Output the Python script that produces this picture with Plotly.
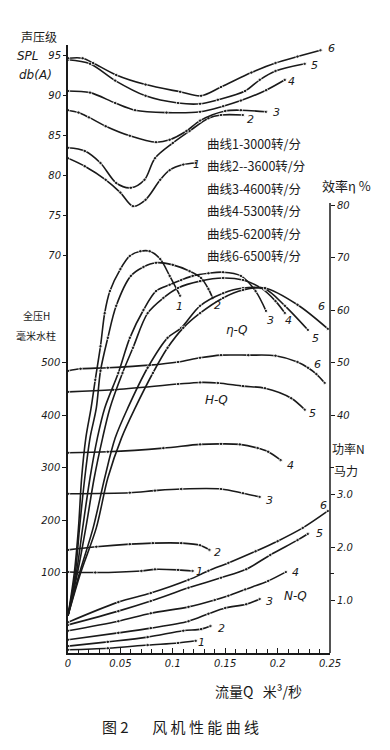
import plotly.graph_objects as go

# ---------------- data ----------------
# Sound pressure level curves, dB(A)  (left upper axis)
SPL_Q1 = [0, 0.016, 0.036, 0.050, 0.062, 0.074, 0.088, 0.097, 0.110, 0.122]
SPL_1 = [82.1, 81.1, 79.4, 77.8, 76.1, 76.9, 79.4, 80.6, 81.3, 81.5]
SPL_Q2 = [0, 0.016, 0.031, 0.046, 0.060, 0.073, 0.083, 0.100, 0.116, 0.134, 0.146, 0.167]
SPL_2 = [83.4, 83.0, 81.5, 79.0, 78.4, 79.4, 82.1, 84.0, 85.5, 87.1, 87.5, 87.5]
SPL_Q3 = [0, 0.010, 0.020, 0.036, 0.059, 0.084, 0.097, 0.113, 0.126, 0.150, 0.165, 0.189]
SPL_3 = [88.1, 87.8, 87.2, 86.1, 84.9, 84.1, 84.4, 85.5, 86.8, 88.0, 88.1, 87.9]
SPL_Q4 = [0, 0.021, 0.045, 0.064, 0.094, 0.126, 0.148, 0.165, 0.189, 0.207]
SPL_4 = [90.5, 90.3, 89.0, 88.1, 87.8, 87.9, 88.6, 89.3, 90.6, 91.9]
SPL_Q5 = [0, 0.021, 0.045, 0.074, 0.105, 0.126, 0.143, 0.169, 0.183, 0.198, 0.226]
SPL_5 = [94.4, 93.9, 91.8, 89.9, 89.0, 88.9, 89.4, 90.5, 91.9, 93.0, 93.9]
SPL_Q6 = [0, 0.014, 0.024, 0.046, 0.074, 0.107, 0.127, 0.146, 0.175, 0.198, 0.219, 0.241]
SPL_6 = [94.6, 94.6, 94.0, 92.5, 91.3, 90.4, 89.9, 91.0, 92.8, 94.0, 94.8, 95.6]

# Efficiency curves, %  (right upper axis)
ETA_Q1 = [0, 0.006, 0.010, 0.013, 0.017, 0.022, 0.026, 0.031, 0.035, 0.040, 0.050, 0.059, 0.069, 0.078, 0.088, 0.097, 0.107]
ETA_1 = [1.8, 9.9, 18.5, 28.0, 35.6, 41.3, 46.7, 53.1, 59.4, 63.6, 67.8, 70.3, 71.2, 71.2, 69.7, 66.5, 62.7]
ETA_Q2 = [0, 0.007, 0.011, 0.016, 0.021, 0.027, 0.031, 0.038, 0.046, 0.060, 0.072, 0.084, 0.100, 0.116, 0.127, 0.134, 0.138]
ETA_2 = [1.8, 9.9, 18.5, 28.0, 35.6, 41.3, 48.4, 54.7, 60.8, 66.5, 68.2, 69.0, 68.6, 67.4, 66.1, 64.0, 62.3]
ETA_Q3 = [0, 0.008, 0.014, 0.021, 0.028, 0.035, 0.048, 0.059, 0.072, 0.084, 0.097, 0.108, 0.119, 0.134, 0.148, 0.165, 0.179, 0.189]
ETA_3 = [1.8, 9.9, 18.5, 28.0, 35.6, 41.3, 48.0, 54.7, 60.0, 63.6, 64.8, 65.7, 66.5, 67.0, 67.2, 66.5, 63.6, 59.8]
ETA_Q4 = [0, 0.009, 0.017, 0.025, 0.033, 0.040, 0.052, 0.062, 0.076, 0.091, 0.105, 0.126, 0.148, 0.167, 0.184, 0.198, 0.207]
ETA_4 = [1.8, 9.9, 18.5, 28.0, 35.6, 41.3, 48.0, 52.8, 59.4, 62.3, 64.2, 65.5, 66.1, 65.7, 64.2, 61.7, 59.4]
ETA_Q5 = [0, 0.011, 0.024, 0.035, 0.045, 0.057, 0.076, 0.095, 0.108, 0.126, 0.148, 0.167, 0.188, 0.207, 0.229]
ETA_5 = [1.8, 9.9, 18.5, 28.0, 35.6, 41.3, 49.0, 54.7, 56.6, 60.8, 63.2, 64.2, 64.0, 60.8, 56.2]
ETA_Q6 = [0, 0.012, 0.027, 0.038, 0.051, 0.064, 0.081, 0.095, 0.110, 0.126, 0.148, 0.167, 0.188, 0.219, 0.248]
ETA_6 = [1.8, 9.9, 18.5, 28.0, 35.6, 41.3, 48.0, 52.8, 56.6, 59.4, 62.3, 63.8, 64.2, 61.0, 56.4]

# Total pressure curves, mm water column  (left lower axis)
H_Q1 = [0, 0.026, 0.070, 0.083, 0.105, 0.119]
H_1 = [101, 100, 103, 106, 105, 103]
H_Q2 = [0, 0.027, 0.059, 0.081, 0.108, 0.126, 0.135]
H_2 = [143, 149, 154, 156, 156, 152, 143]
H_Q3 = [0, 0.059, 0.083, 0.108, 0.146, 0.167, 0.183]
H_3 = [250, 252, 256, 259, 259, 251, 244]
H_Q4 = [0, 0.038, 0.091, 0.126, 0.146, 0.164, 0.181, 0.191, 0.203]
H_4 = [328, 330, 337, 344, 345, 344, 337, 330, 314]
H_Q5 = [0, 0.043, 0.105, 0.126, 0.143, 0.167, 0.188, 0.213, 0.226]
H_5 = [444, 448, 459, 462, 461, 455, 451, 432, 410]
H_Q6 = [0, 0.012, 0.038, 0.078, 0.105, 0.126, 0.146, 0.172, 0.198, 0.219, 0.229, 0.237, 0.245]
H_6 = [484, 488, 490, 495, 501, 509, 514, 514, 513, 501, 490, 478, 461]

# Power curves, horsepower  (right lower axis)
N_Q1 = [0, 0.038, 0.076, 0.105, 0.122]
N_1 = [0.06, 0.09, 0.15, 0.19, 0.23]
N_Q2 = [0, 0.038, 0.076, 0.110, 0.127, 0.136]
N_2 = [0.13, 0.21, 0.30, 0.42, 0.45, 0.51]
N_Q3 = [0, 0.048, 0.079, 0.115, 0.134, 0.150, 0.170, 0.183]
N_3 = [0.25, 0.38, 0.47, 0.60, 0.74, 0.85, 0.92, 1.02]
N_Q4 = [0, 0.048, 0.079, 0.115, 0.140, 0.153, 0.169, 0.191, 0.208]
N_4 = [0.42, 0.60, 0.75, 0.87, 1.00, 1.08, 1.20, 1.36, 1.53]
N_Q5 = [0, 0.048, 0.079, 0.115, 0.146, 0.170, 0.193, 0.219, 0.229]
N_5 = [0.53, 0.79, 0.98, 1.23, 1.42, 1.58, 1.85, 2.13, 2.25]
N_Q6 = [0, 0.048, 0.079, 0.115, 0.134, 0.153, 0.179, 0.200, 0.224, 0.248]
N_6 = [0.58, 0.96, 1.13, 1.38, 1.55, 1.70, 1.92, 2.11, 2.36, 2.68]

CURVE_IDS = ["1", "2", "3", "4", "5", "6"]
LEGEND_ROWS = ["曲线1-3000转/分", "曲线2--3600转/分", "曲线3-4600转/分",
               "曲线4-5300转/分", "曲线5-6200转/分", "曲线6-6500转/分"]
X_TICKS = [0, 0.05, 0.10, 0.15, 0.20, 0.25]
X_TICK_TEXT = ["0", "0.05", "0.1", "0.15", "0.2", "0.25"]
SPL_TICKS = [70, 75, 80, 85, 90, 95]
H_TICKS = [100, 200, 300, 400, 500]
ETA_TICKS = [40, 50, 60, 70, 80]
N_TICKS = [1.0, 2.0, 3.0]
N_TICK_TEXT = ["1.0", "2.0", "3.0"]
N_EXTRA_TICKS = [1.5, 3.5]   # unlabeled tick marks on the power axis

# ---------------- figure ----------------
INK = "#1a1a1a"
W, H = 390, 750
ML, MR, MT, MB = 60, 68, 37, 105
PW, PH = W - ML - MR, H - MT - MB

def px(xp, yp):
    """pixel position -> paper coords"""
    return (xp - ML) / PW, (H - MB - yp) / PH

fig = go.Figure()

line_style = dict(color=INK, width=1.6, shape="spline", smoothing=0.9)

groups = [
    ("y2", [(SPL_Q1, SPL_1), (SPL_Q2, SPL_2), (SPL_Q3, SPL_3), (SPL_Q4, SPL_4), (SPL_Q5, SPL_5), (SPL_Q6, SPL_6)]),
    ("y3", [(ETA_Q1, ETA_1), (ETA_Q2, ETA_2), (ETA_Q3, ETA_3), (ETA_Q4, ETA_4), (ETA_Q5, ETA_5), (ETA_Q6, ETA_6)]),
    ("y", [(H_Q1, H_1), (H_Q2, H_2), (H_Q3, H_3), (H_Q4, H_4), (H_Q5, H_5), (H_Q6, H_6)]),
    ("y4", [(N_Q1, N_1), (N_Q2, N_2), (N_Q3, N_3), (N_Q4, N_4), (N_Q5, N_5), (N_Q6, N_6)]),
]
for yax, curves in groups:
    for qs, vs in curves:
        if yax == "y3":
            sizes = [3.5 if v > 45 else 0 for v in vs]
        else:
            sizes = [3.5] * len(vs)
        fig.add_trace(go.Scatter(x=qs, y=vs, yaxis=yax, mode="lines+markers",
                                 line=line_style, marker=dict(color=INK, size=sizes),
                                 showlegend=False, hoverinfo="skip", cliponaxis=False))

tickfont = dict(family="DejaVu Sans", size=10, color=INK, style="italic")
fig.update_layout(
    width=W, height=H, margin=dict(l=ML, r=MR, t=MT, b=MB),
    paper_bgcolor="white", plot_bgcolor="white", showlegend=False,
    xaxis=dict(range=[0, 0.25], tickvals=X_TICKS, ticktext=X_TICK_TEXT, ticks="inside",
               ticklen=5, tickcolor=INK, showline=True, linecolor=INK, linewidth=1.5,
               showgrid=False, zeroline=False, tickfont=tickfont,
               minor=dict(dtick=0.01, ticks="inside", ticklen=4, tickcolor=INK)),
    yaxis=dict(range=[-53.33, 1104.76], tickvals=H_TICKS, ticks="outside", ticklen=4,
               tickcolor=INK, showline=True, linecolor=INK, linewidth=1.5,
               showgrid=False, zeroline=False, tickfont=tickfont),
    yaxis2=dict(range=[20.25, 96.25], tickvals=SPL_TICKS, ticks="outside", ticklen=4,
                tickcolor=INK, overlaying="y", side="left", showline=False,
                showgrid=False, zeroline=False, tickfont=tickfont),
    yaxis3=dict(range=[-5.333, 110.476], tickvals=ETA_TICKS, ticks="outside", ticklen=4,
                tickcolor=INK, overlaying="y", side="right", showline=False,
                showgrid=False, zeroline=False, tickfont=tickfont),
    yaxis4=dict(range=[0, 11.472], tickvals=N_TICKS, ticktext=N_TICK_TEXT, ticks="outside",
                ticklen=4, tickcolor=INK, overlaying="y", side="right", showline=False,
                showgrid=False, zeroline=False, tickfont=tickfont),
)

# right axis line (only from the 80% tick downwards)
_, ytop = px(322, 195)
fig.add_shape(type="line", xref="paper", yref="paper", x0=1, x1=1, y0=0, y1=ytop,
              line=dict(color=INK, width=1.5))
# unlabeled power ticks
for v in N_EXTRA_TICKS:
    fig.add_shape(type="line", xref="paper", yref="y4", x0=1, x1=1 + 4 / PW, y0=v, y1=v,
                  line=dict(color=INK, width=1))

cjk = "Noto Sans CJK SC"
NB = "\u00a0"
def note(text, xp, yp, size=12, family=cjk, italic=False, xanchor="center"):
    ax, ay = px(xp, yp)
    f = dict(family=family, size=size, color=INK)
    if italic:
        f["style"] = "italic"
    fig.add_annotation(text=text, x=ax, y=ay, xref="paper", yref="paper",
                       showarrow=False, font=f, xanchor=xanchor, yanchor="middle")

# axis titles
note("声压级", 31, 28, 12)
note("SPL", 20, 48, 12, "DejaVu Sans", True)
note("db(A)", 27, 67, 12, "DejaVu Sans", True)
note("全压H", 28, 307, 10)
note("毫米水柱", 28, 327, 10)
note("效率η %", 338, 177, 13)
note("功率N", 340, 440, 12)
note("马力", 338, 462, 12)
note("流量Q" + NB * 3 + "米³/秒", 250, 683, 14)
note("图" + NB + "2" + NB * 7 + NB.join("风机性能曲线"), 172, 718, 15)

# legend rows
for i, row in enumerate(LEGEND_ROWS):
    note(row, 197, 135 + i * 22.5, 12.5, xanchor="left")

# group labels
note("η-Q", 228, 322, 12, "DejaVu Sans", True)
note("H-Q", 208, 392, 12, "DejaVu Sans", True)
note("N-Q", 287, 588, 12, "DejaVu Sans", True)

# curve numbers
spl_lab = [(188, 157), (242, 112), (268, 104), (283, 73), (306, 57), (323, 40)]
eta_lab = [(171, 298), (209, 297), (262, 312), (280, 312), (307, 330), (313, 298)]
h_lab = [(191, 563), (209, 544), (261, 492), (282, 457), (304, 405), (309, 356)]
n_lab = [(193, 634), (213, 620), (261, 593), (287, 564), (311, 525), (315, 497)]
for labs in (spl_lab, eta_lab, h_lab, n_lab):
    for cid, (lx, ly) in zip(CURVE_IDS, labs):
        note(cid, lx, ly, 11, "DejaVu Sans", True)

fig.write_html("out.html")
